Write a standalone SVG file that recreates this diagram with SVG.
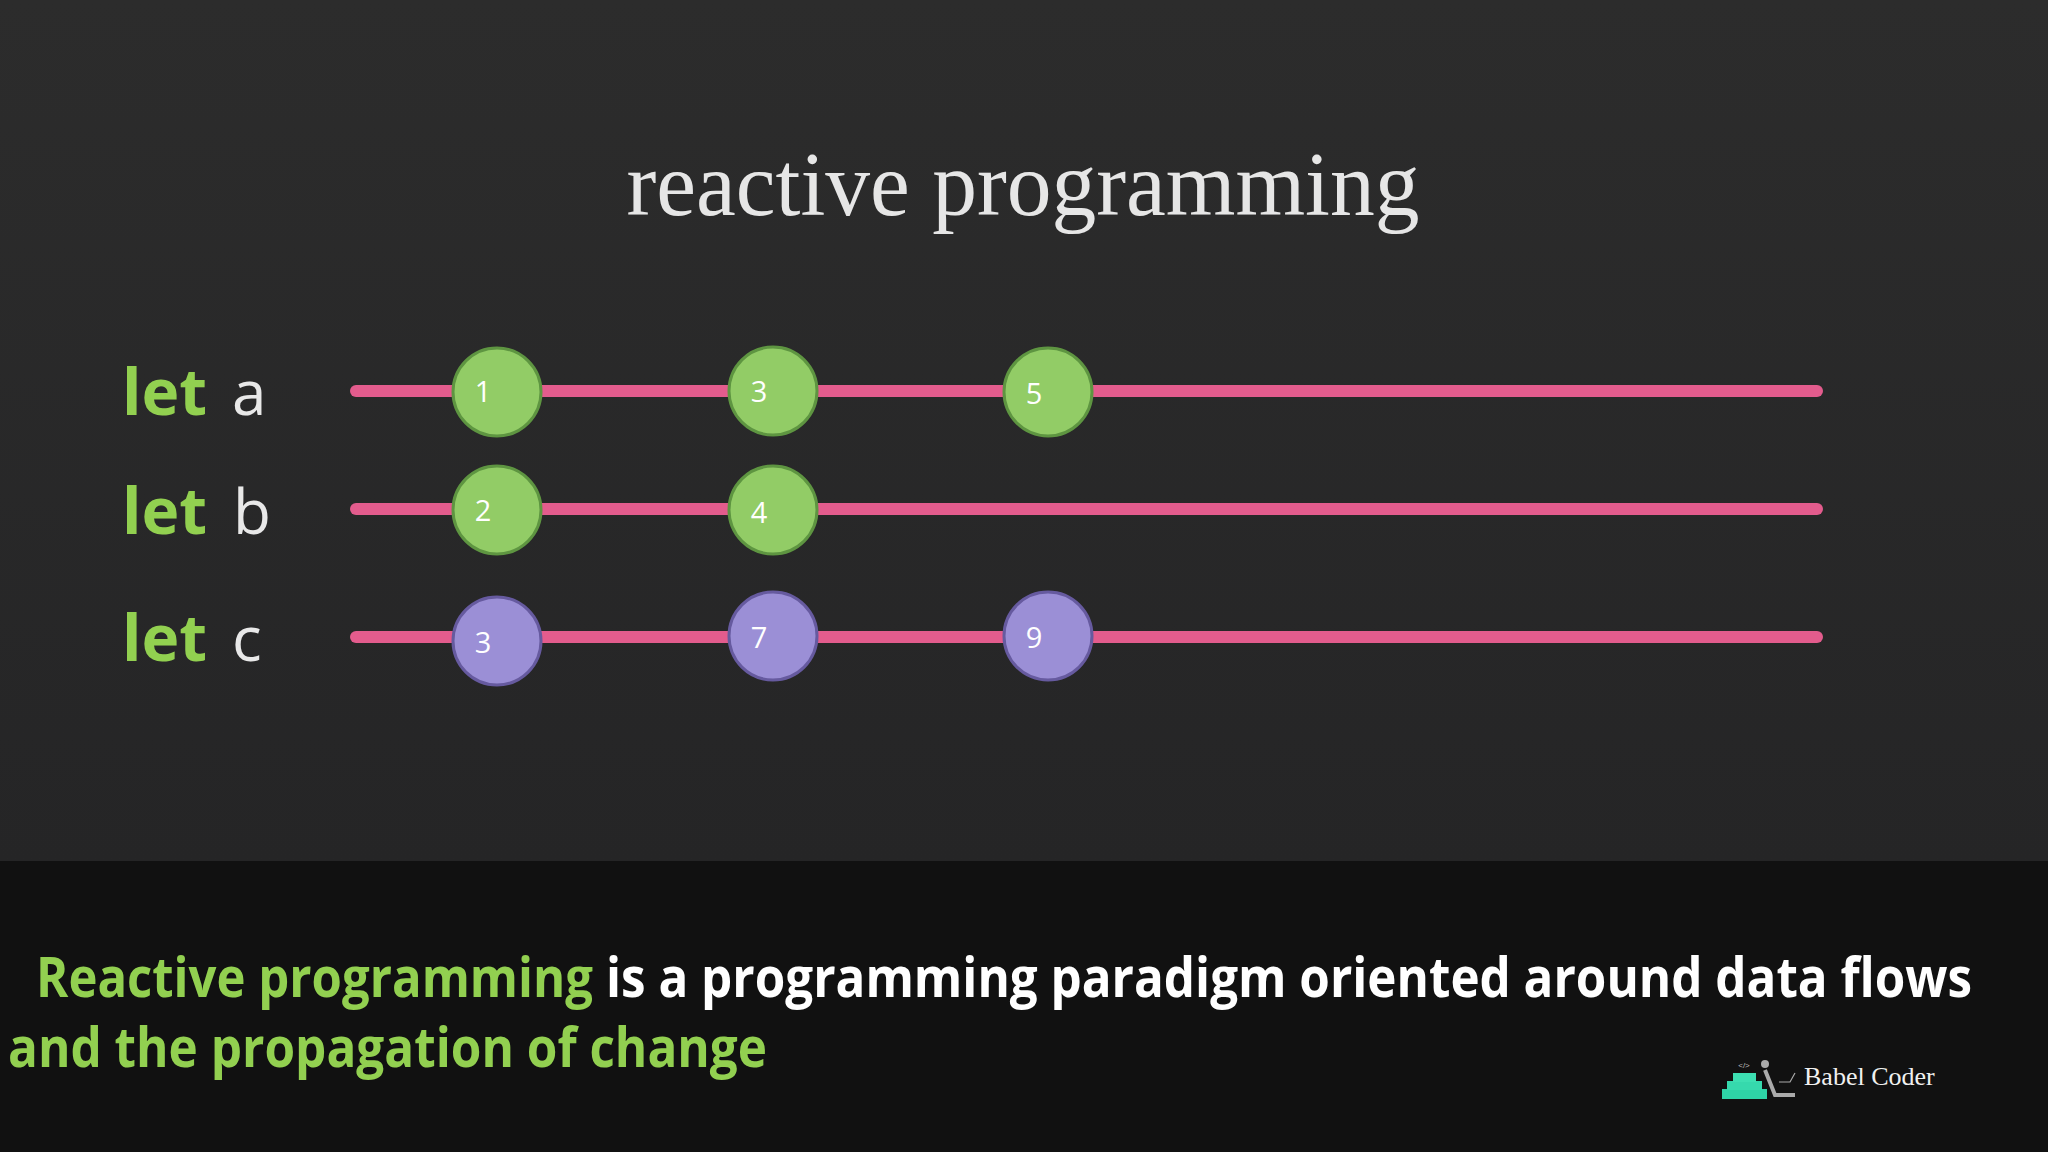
<svg xmlns="http://www.w3.org/2000/svg" width="2048" height="1152" viewBox="0 0 2048 1152">
<defs>
<linearGradient id="bg" x1="0" y1="0" x2="0" y2="1">
<stop offset="0" stop-color="#2c2c2c"/>
<stop offset="1" stop-color="#252526"/>
</linearGradient>
<style>
.tl{stroke:#e35c8d;stroke-width:12;stroke-linecap:round;fill:none}
.g{fill:#92cc66;stroke:#5e9541;stroke-width:3}
.p{fill:#9b8fd6;stroke:#665a9f;stroke-width:3}
.num{font-family:"Open Sans","Liberation Sans",sans-serif;font-size:29px;fill:#ffffff}
.kw{font-family:"Open Sans","Liberation Sans",sans-serif;font-weight:bold;font-size:64px;fill:#92d050}
.var{font-family:"Open Sans","Liberation Sans",sans-serif;font-size:62px;fill:#e8e8e8}
.cap{font-family:"Open Sans","Liberation Sans",sans-serif;font-weight:bold;font-size:48px}
</style>
</defs>
<rect x="0" y="0" width="2048" height="862" fill="url(#bg)"/>
<rect x="0" y="861" width="2048" height="291" fill="#111111"/>

<g id="title">
<text x="1023" y="215" text-anchor="middle" font-family="'Liberation Serif',serif" font-size="90" fill="#e6e6e6" textLength="793" lengthAdjust="spacingAndGlyphs">reactive programming</text>
</g>

<g id="label-a"><text class="kw" x="122" y="415">let</text><text class="var" x="232" y="415">a</text></g>
<g id="label-b"><text class="kw" x="122" y="534">let</text><text class="var" x="233" y="534">b</text></g>
<g id="label-c"><text class="kw" x="122" y="661">let</text><text class="var" x="232" y="661">c</text></g>

<g id="connectors">
<line class="tl" x1="356" y1="391" x2="1817" y2="391"/>
<line class="tl" x1="356" y1="509" x2="1817" y2="509"/>
<line class="tl" x1="356" y1="637" x2="1817" y2="637"/>
</g>

<g id="a1"><circle class="g" cx="497" cy="392" r="44"/><text class="num" x="483" y="402" text-anchor="middle">1</text></g>
<g id="a3"><circle class="g" cx="773" cy="391" r="44"/><text class="num" x="759" y="402" text-anchor="middle">3</text></g>
<g id="a5"><circle class="g" cx="1048" cy="392" r="44"/><text class="num" x="1034" y="404" text-anchor="middle">5</text></g>
<g id="b2"><circle class="g" cx="497" cy="510" r="44"/><text class="num" x="483" y="521" text-anchor="middle">2</text></g>
<g id="b4"><circle class="g" cx="773" cy="510" r="44"/><text class="num" x="759" y="523" text-anchor="middle">4</text></g>
<g id="c3"><circle class="p" cx="497" cy="641" r="44"/><text class="num" x="483" y="653" text-anchor="middle">3</text></g>
<g id="c7"><circle class="p" cx="773" cy="636" r="44"/><text class="num" x="759" y="648" text-anchor="middle">7</text></g>
<g id="c9"><circle class="p" cx="1048" cy="636" r="44"/><text class="num" x="1034" y="648" text-anchor="middle">9</text></g>

<g id="caption">
<text class="cap" transform="translate(36,997) scale(1,1.17)" x="0" y="0" fill="#92d050" textLength="557" lengthAdjust="spacingAndGlyphs">Reactive programming</text>
<text class="cap" transform="translate(606,997) scale(1,1.17)" x="0" y="0" fill="#ffffff" textLength="1366" lengthAdjust="spacingAndGlyphs">is a programming paradigm oriented around data flows</text>
<text class="cap" transform="translate(8,1067) scale(1,1.17)" x="0" y="0" fill="#92d050" textLength="759" lengthAdjust="spacingAndGlyphs">and the propagation of change</text>
</g>

<g id="logo">
<rect x="1722" y="1089" width="45" height="10" fill="#2ed3a6"/>
<rect x="1727" y="1081" width="35" height="9" fill="#36d9ad"/>
<rect x="1733" y="1073" width="23" height="9" fill="#3ddfb2"/>
<text x="1744" y="1068" text-anchor="middle" font-family="'Liberation Sans',sans-serif" font-size="8" fill="#bbbbbb">&lt;/&gt;</text>
<circle cx="1765" cy="1064" r="4" fill="#aaaaaa"/>
<polyline points="1765,1070 1775,1095 1795,1095" fill="none" stroke="#aaaaaa" stroke-width="4"/>
<polyline points="1779,1082 1790,1082 1795,1073" fill="none" stroke="#aaaaaa" stroke-width="1.2"/>
<text x="1804" y="1085" font-family="'Liberation Serif',serif" font-size="26" fill="#f0f0f0">Babel Coder</text>
</g>
</svg>
